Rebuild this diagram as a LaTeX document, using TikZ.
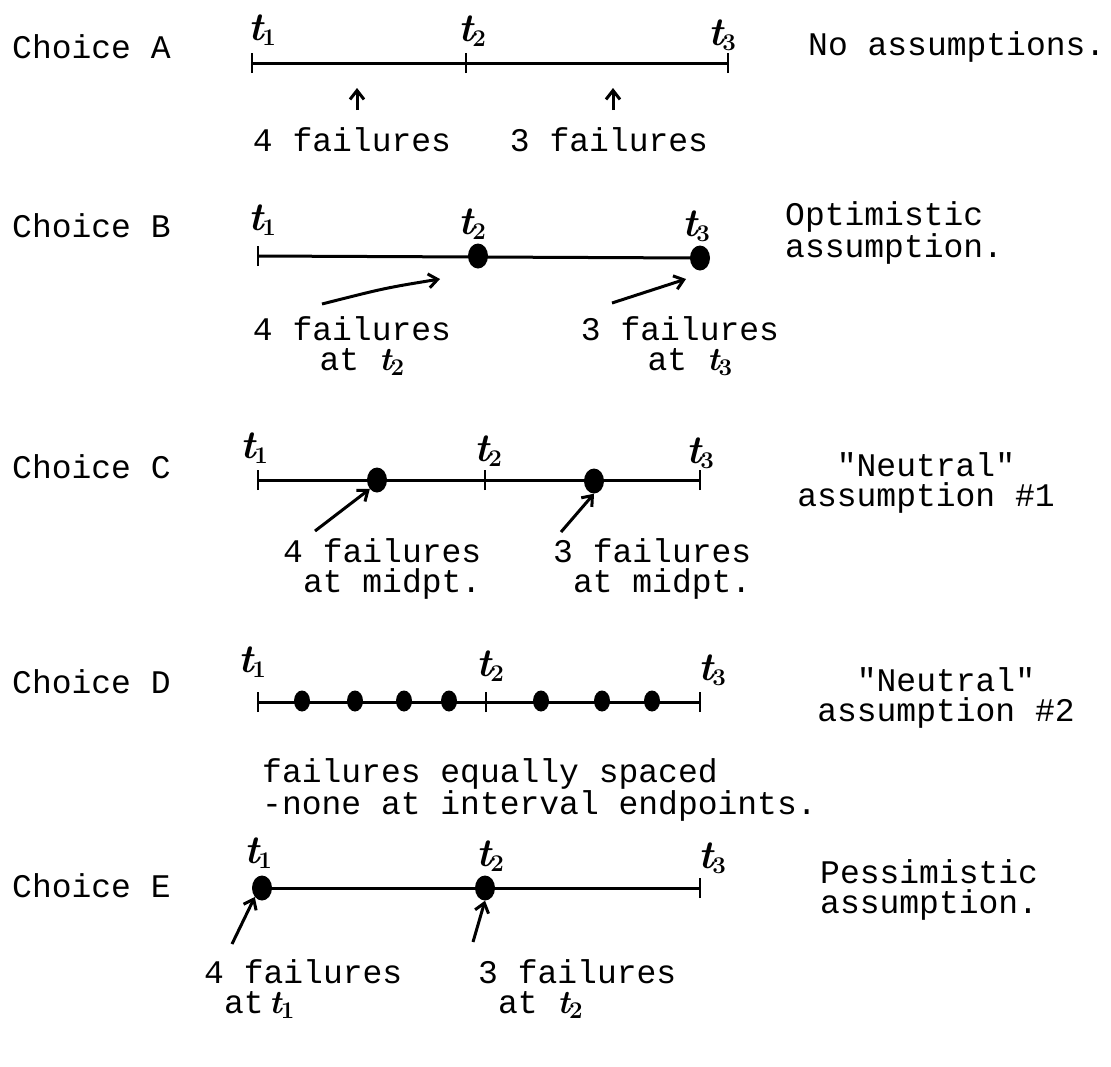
\documentclass[tikz,border=0pt]{standalone}
\usepackage{fontspec}
\setmonofont{Liberation Mono}
\usetikzlibrary{arrows.meta,shapes.geometric}
\newcommand{\tlab}[1]{{\rmfamily\bfseries\itshape t\kern-1pt\raisebox{-5pt}{\fontsize{24}{24}\selectfont\upshape #1}}}
\begin{document}
\begin{tikzpicture}[x=1pt,y=-1pt,
  txt/.style={font=\ttfamily\fontsize{33}{30}\selectfont, inner sep=0pt, anchor=west, align=left},
  ctxt/.style={font=\ttfamily\fontsize{33}{30}\selectfont, inner sep=0pt, align=center},
  tl/.style={font=\fontsize{40}{40}\selectfont, inner sep=0pt},
  axis/.style={line width=3pt},
  tick/.style={line width=2.6pt},
  dot/.style={ellipse, fill=black, minimum width=20pt, minimum height=25pt, inner sep=0pt},
  sdot/.style={ellipse, fill=black, minimum width=16pt, minimum height=21pt, inner sep=0pt},
  arr/.style={line width=3pt, -{Straight Barb[length=9pt,width=14pt]}}
]
\useasboundingbox (0,0) rectangle (1111,1066);

% ---------- Choice A ----------
\node[txt] (la) at (12,47) {Choice A};
\node[txt] (ra) at (808,47) {No assumptions.};
\coordinate (a1) at (252,63); \coordinate (a2) at (466,63); \coordinate (a3) at (728,63);
\draw[axis] (a1) -- (a3);
\foreach \p in {a1,a2,a3} \draw[tick] ([yshift=-10pt]\p) -- ([yshift=10pt]\p);
\node[tl] (at1) at (262,30) {\tlab{1}};
\node[tl] (at2) at (472,31) {\tlab{2}};
\node[tl] (at3) at (722,35) {\tlab{3}};
\node[ctxt] (af1) at (352,140) {4 failures};
\node[ctxt] (af2) at (609,140) {3 failures};
\coordinate (aa1) at (357,110); \coordinate (aa2) at (613,110);
\draw[arr] (aa1) -- ++(0,-22);
\draw[arr] (aa2) -- ++(0,-22);

% ---------- Choice B ----------
\node[txt] (lb) at (12,226) {Choice B};
\node[txt] (rb) at (785,233) {Optimistic\\assumption.};
\coordinate (b1) at (258,256); \coordinate (b3) at (700,258);
\draw[axis] (b1) -- (b3);
\draw[tick] ([yshift=-10pt]b1) -- ([yshift=10pt]b1);
\node[dot] (bd2) at (478,256) {};
\node[dot] (bd3) at (700,258) {};
\node[tl] (bt1) at (262,220) {\tlab{1}};
\node[tl] (bt2) at (472,224) {\tlab{2}};
\node[tl] (bt3) at (696,226) {\tlab{3}};
\node[ctxt] (bf1) at (352,346) {4 failures\\\hphantom{x}at \tlab{2}};
\node[ctxt] (bf2) at (680,346) {3 failures\\\hphantom{x}at \tlab{3}};
\coordinate (ba1s) at (322,304); \coordinate (ba1e) at (440,279);
\coordinate (ba2s) at (612,303); \coordinate (ba2e) at (686,279);
\draw[arr] (ba1s) .. controls (385,288) .. (ba1e);
\draw[arr] (ba2s) -- (ba2e);

% ---------- Choice C ----------
\node[txt] (lc) at (12,467) {Choice C};
\node[ctxt] (rc) at (926,483) {"Neutral"\\assumption \#1};
\coordinate (c1) at (258,480); \coordinate (c2) at (485,480); \coordinate (c3) at (700,480);
\draw[axis] (c1) -- (c3);
\foreach \p in {c1,c2,c3} \draw[tick] ([yshift=-10pt]\p) -- ([yshift=10pt]\p);
\node[dot] (cd1) at (377,480) {};
\node[dot] (cd2) at (594,481) {};
\node[tl] (ct1) at (254,448) {\tlab{1}};
\node[tl] (ct2) at (488,451) {\tlab{2}};
\node[tl] (ct3) at (700,453) {\tlab{3}};
\node[txt] (cf1) at (283,569) {4 failures\\\hphantom{x}at midpt.};
\node[txt] (cf2) at (553,569) {3 failures\\\hphantom{x}at midpt.};
\coordinate (ca1) at (315,531); \coordinate (ca2) at (561,532);
\draw[arr] (ca1) -- (cd1.south west);
\draw[arr] (ca2) -- (cd2.south);

% ---------- Choice D ----------
\node[txt] (ld) at (12,682) {Choice D};
\node[ctxt] (rd) at (946,698) {"Neutral"\\assumption \#2};
\coordinate (d1) at (258,702); \coordinate (d2) at (486,702); \coordinate (d3) at (700,702);
\draw[axis] (d1) -- (d3);
\foreach \p in {d1,d2,d3} \draw[tick] ([yshift=-10pt]\p) -- ([yshift=10pt]\p);
\foreach \x/\n in {302/1,355/2,404/3,449/4,541/5,602/6,652/7}
  \node[sdot] (dd\n) at (\x,701) {};
\node[tl] (dt1) at (252,662) {\tlab{1}};
\node[tl] (dt2) at (490,666) {\tlab{2}};
\node[tl] (dt3) at (712,670) {\tlab{3}};
\node[txt] (df) at (262,790) {failures equally spaced\\-none at interval endpoints.};

% ---------- Choice E ----------
\node[txt] (le) at (12,886) {Choice E};
\node[txt] (re) at (820,890) {Pessimistic\\assumption.};
\coordinate (e1) at (262,888); \coordinate (e3) at (700,888);
\draw[axis] (e1) -- (e3);
\draw[tick] ([yshift=-10pt]e3) -- ([yshift=10pt]e3);
\node[dot] (ed1) at (262,888) {};
\node[dot] (ed2) at (485,888) {};
\node[tl] (et1) at (258,853) {\tlab{1}};
\node[tl] (et2) at (490,856) {\tlab{2}};
\node[tl] (et3) at (712,858) {\tlab{3}};
\node[txt] (ef1) at (204,989) {4 failures\\\hphantom{x}at\,\tlab{1}};
\node[txt] (ef2) at (478,989) {3 failures\\\hphantom{x}at \tlab{2}};
\coordinate (ea1) at (232,944); \coordinate (ea2) at (473,942);
\draw[arr] (ea1) -- (ed1.south west);
\draw[arr] (ea2) -- (ed2.south);
\end{tikzpicture}
\end{document}
